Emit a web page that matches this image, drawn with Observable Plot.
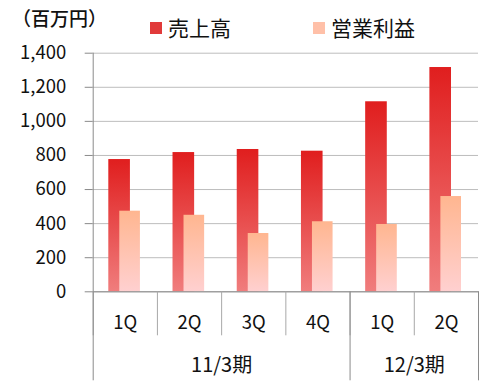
<!DOCTYPE html>
<html>
<head>
<meta charset="utf-8">
<script src="https://cdn.jsdelivr.net/npm/d3@7"></script>
<script src="https://cdn.jsdelivr.net/npm/@observablehq/plot@0.6"></script>
<style>
  html, body { margin: 0; padding: 0; background: #fff; }
  #wrap { position: relative; width: 485px; height: 389px; font-family: "Noto Sans CJK JP", "Noto Sans", sans-serif; }
  #wrap svg { position: absolute; left: 0; top: 0; }
  .unit { position: absolute; left: 12px; top: 8px; font-size: 19px; color: #111; line-height: 1; font-weight: 500; }
  .legend { position: absolute; top: 17px; font-size: 21px; color: #111; line-height: 1; display: flex; align-items: center; }
  .legend .sw { width: 12px; height: 12px; margin-right: 6px; display: inline-block; }
</style>
</head>
<body>
<div id="wrap"></div>
<script>
const periods  = ["11/3期", "11/3期", "11/3期", "11/3期", "12/3期", "12/3期"];
const quarters = ["1Q", "2Q", "3Q", "4Q", "1Q", "2Q"];
const sales    = [776, 817, 835, 825, 1115, 1316];
const profit   = [473, 449, 342, 411, 395, 559];
const seriesNames = ["売上高", "営業利益"];
const yTicks = [0, 200, 400, 600, 800, 1000, 1200, 1400];
const unitLabel = "（百万円）";

const rows = quarters.map((q, i) => ({i, q, period: periods[i], sales: sales[i], profit: profit[i]}));
const n = rows.length;
const boundaries = d3.range(n + 1);
const centers = rows.map(d => d.i + 0.5);
const groups = [];
periods.forEach((p, i) => {
  const g = groups[groups.length - 1];
  if (g && g.name === p) g.end = i + 1;
  else groups.push({name: p, start: i, end: i + 1});
});
const groupBounds = [0, ...groups.map(g => g.end)];
const groupCenters = groups.map(g => (g.start + g.end) / 2);
const groupLabel = new Map(groups.map(g => [(g.start + g.end) / 2, g.name]));

const W = 485, H = 389;
const chart = Plot.plot({
  width: W,
  height: H,
  marginLeft: 92.7,
  marginRight: 7,
  marginTop: 52.7,
  marginBottom: 97.7,
  style: {fontFamily: '"Noto Sans CJK JP", "Noto Sans", sans-serif', fontSize: "18px", color: "#111", background: "#fff"},
  x: {domain: [0, n], axis: null, label: null},
  y: {domain: [0, 1400], axis: null, label: null},
  marks: [
    Plot.gridY(yTicks, {stroke: "#bdbdbd", strokeOpacity: 1}),
    Plot.axisY(yTicks, {tickSize: 8, tickPadding: 19, stroke: "#8a8a8a", tickFormat: d3.format(","), fontSize: 18.5, fill: "#111", label: null}),
    Plot.rectY(rows, {x1: "i", x2: d => d.i + 1, y: "sales", insetLeft: 15.6, insetRight: 27, fill: "url(#gradSales)"}),
    Plot.rectY(rows, {x1: "i", x2: d => d.i + 1, y: "profit", insetLeft: 26.6, insetRight: 17, fill: "url(#gradProfit)"}),
    Plot.ruleX([0], {stroke: "#8a8a8a"}),
    Plot.ruleY([0], {stroke: "#8a8a8a"}),
    Plot.axisX(boundaries, {tickSize: 44, tickFormat: () => "", stroke: "#a8a8a8", label: null}),
    Plot.axisX(groupBounds, {tickSize: 89, tickFormat: () => "", stroke: "#8a8a8a", label: null}),
    Plot.axisX(centers, {tickSize: 0, tickPadding: 24, tickFormat: d => quarters[Math.floor(d)], fontSize: 18.5, fill: "#111", label: null}),
    Plot.axisX(groupCenters, {tickSize: 0, tickPadding: 66, tickFormat: d => groupLabel.get(d), fontSize: 20, fill: "#111", label: null})
  ]
});

const defs = d3.select(chart).insert("defs", ":first-child");
function grad(id, top, bottom) {
  const g = defs.append("linearGradient").attr("id", id).attr("x1", 0).attr("y1", 0).attr("x2", 0).attr("y2", 1);
  g.append("stop").attr("offset", "0%").attr("stop-color", top);
  g.append("stop").attr("offset", "100%").attr("stop-color", bottom);
}
grad("gradSales", "#e01e1e", "#f07d7d");
grad("gradProfit", "#ffb690", "#ffd0d0");

const wrap = document.getElementById("wrap");
wrap.appendChild(chart);

const unit = document.createElement("div");
unit.className = "unit";
unit.textContent = unitLabel;
wrap.appendChild(unit);

const legendColors = ["#e13a3a", "#ffc0a8"];
const legendLeft = [150, 313];
seriesNames.forEach((name, k) => {
  const item = document.createElement("div");
  item.className = "legend";
  item.style.left = legendLeft[k] + "px";
  const sw = document.createElement("span");
  sw.className = "sw";
  sw.style.background = legendColors[k];
  const tx = document.createElement("span");
  tx.textContent = name;
  item.appendChild(sw);
  item.appendChild(tx);
  wrap.appendChild(item);
});
</script>
</body>
</html>
